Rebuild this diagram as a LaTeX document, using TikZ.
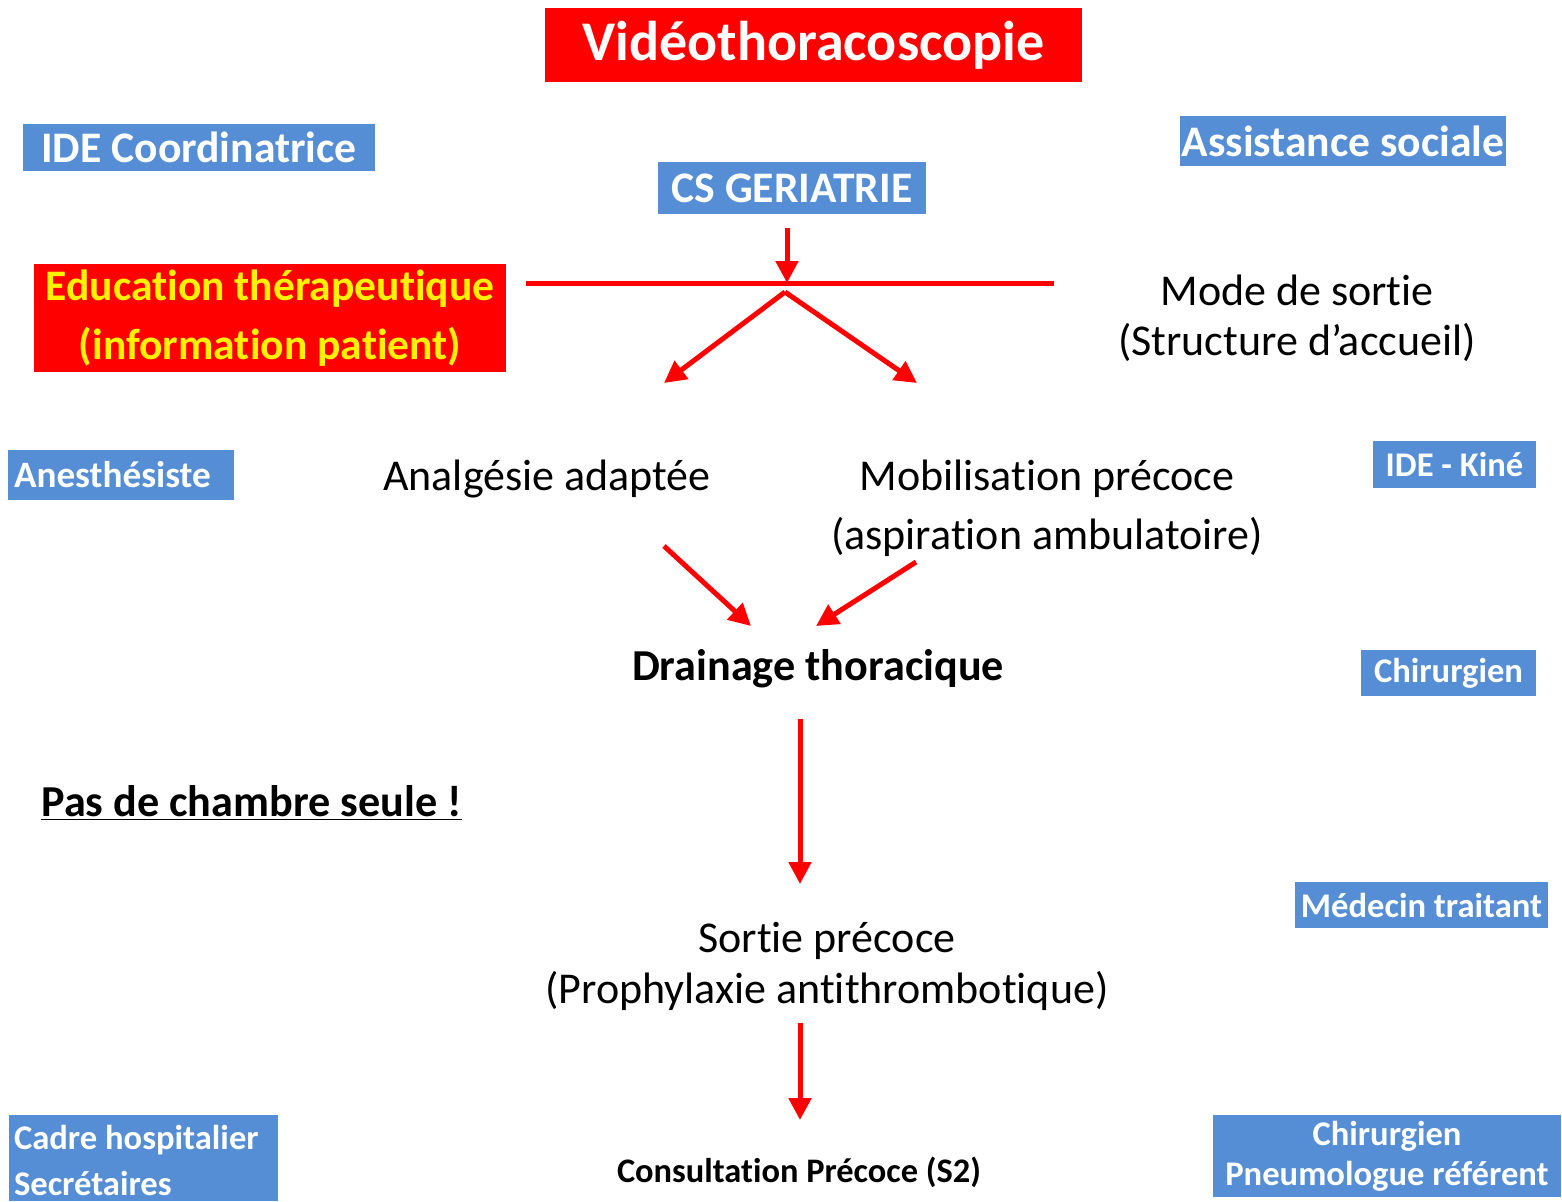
\documentclass[tikz,border=0pt]{standalone}
\usepackage{fontspec}
\setmainfont{Carlito}[Ligatures=NoCommon]
\usetikzlibrary{arrows.meta}
\definecolor{boxblue}{RGB}{85,142,213}
\tikzset{
	blue box/.style={fill=boxblue,text=white,font=\bfseries\fontsize{17.3}{21}\selectfont,inner sep=0pt},
	big box/.style={blue box,font=\bfseries\fontsize{21.8}{25}\selectfont},
	box label/.style={text=white,inner sep=0pt,anchor=west,align=left},
	plain text/.style={font=\fontsize{22}{25}\selectfont,inner sep=0pt,align=center},
	bold text/.style={plain text,font=\bfseries\fontsize{22.1}{25}\selectfont},
	red arrow/.style={draw=red,line width=2.5pt,-{Triangle[length=11pt,width=11pt]}}
}
\begin{document}
\begin{tikzpicture}[x=0.5pt,y=-0.5pt]
	\useasboundingbox (0,0) rectangle (1562,1201);
	\node[fill=red,text=white,font=\bfseries\fontsize{28}{32}\selectfont,minimum width=268.5pt,minimum height=37pt,inner sep=0pt] (title) at (813.5,45) {Vidéothoracoscopie};
	\node[big box,minimum width=176pt,minimum height=23.5pt] (ide) at (199,147.5) {IDE Coordinatrice};
	\node[big box,minimum width=163pt,minimum height=25pt] (social) at (1343,141) {Assistance sociale};
	\node[big box,minimum width=134pt,minimum height=26pt] (geria) at (792,188) {CS GERIATRIE};
	\node[fill=red,text=yellow,font=\bfseries\fontsize{21.8}{29.5}\selectfont,align=center,minimum width=236pt,minimum height=54pt,inner sep=0pt] (educ) at (270,318) {Education thérapeutique\\(information patient)};
	\node[plain text] (sortie) at (1297,318) {Mode de sortie\\(Structure d’accueil)};
	\node[blue box,minimum width=113pt,minimum height=25pt] (anes) at (121,475) {};
	\node[box label,font=\bfseries\fontsize{18.6}{22}\selectfont] (anes text) at ([xshift=3pt]anes.west) {Anesthésiste};
	\node[blue box,minimum width=81.5pt,minimum height=23.5pt] (kine) at (1454.5,464.5) {IDE - Kiné};
	\node[blue box,minimum width=87.5pt,minimum height=23pt] (chir) at (1448.5,673) {Chirurgien};
	\node[blue box,minimum width=126.5pt,minimum height=23pt] (medecin) at (1421.5,905) {Médecin traitant};
	\node[blue box,minimum width=134.5pt,minimum height=43pt] (cadre) at (143.5,1158) {};
	\node[box label,font=\bfseries\fontsize{17.3}{23}\selectfont] (cadre text) at ([xshift=2.5pt,yshift=-1pt]cadre.west) {Cadre hospitalier\\Secrétaires};
	\node[blue box,align=center,minimum width=174pt,minimum height=41pt,font=\bfseries\fontsize{17.3}{20}\selectfont] (pneumo) at (1387,1156) {Chirurgien\\Pneumologue référent};
	\node[plain text] (analg) at (547,479) {Analgésie adaptée};
	\node[plain text,font=\fontsize{22}{29.5}\selectfont] (mobil) at (1047,508) {Mobilisation précoce\\(aspiration ambulatoire)};
	\node[bold text] (drain) at (818,669) {Drainage thoracique};
	\node[bold text,anchor=west] (pas) at (41,803) {\underline{Pas de chambre seule !}};
	\node[plain text,font=\fontsize{22}{25.5}\selectfont] (precoce) at (827,966) {Sortie précoce\\(Prophylaxie antithrombotique)};
	\node[plain text,font=\bfseries\fontsize{17.2}{20}\selectfont] (consult) at (799,1172) {Consultation Précoce (S2)};

	\coordinate (bar l) at (526,283);
	\coordinate (bar r) at (1054,283);
	\coordinate (hub) at (785,292);
	\coordinate (geria end) at (787,228);
	\coordinate (hub top) at (787,283);
	\coordinate (analg end) at (664,383);
	\coordinate (mobil end) at (917,383);
	\coordinate (analg start) at (664,546);
	\coordinate (mobil start) at (916,562);
	\coordinate (drain l) at (751,626);
	\coordinate (drain r) at (816,626);
	\coordinate (drain start) at (800,719);
	\coordinate (drain end) at (800,884);
	\coordinate (precoce start) at (800,1023);
	\coordinate (precoce end) at (800,1120);

	\draw[red,line width=2.5pt] (bar l) -- (bar r);
	\draw[red arrow] (geria end) -- (hub top);
	\draw[red arrow] (hub) -- (analg end);
	\draw[red arrow] (hub) -- (mobil end);
	\draw[red arrow] (analg start) -- (drain l);
	\draw[red arrow] (mobil start) -- (drain r);
	\draw[red arrow] (drain start) -- (drain end);
	\draw[red arrow] (precoce start) -- (precoce end);
\end{tikzpicture}
\end{document}
